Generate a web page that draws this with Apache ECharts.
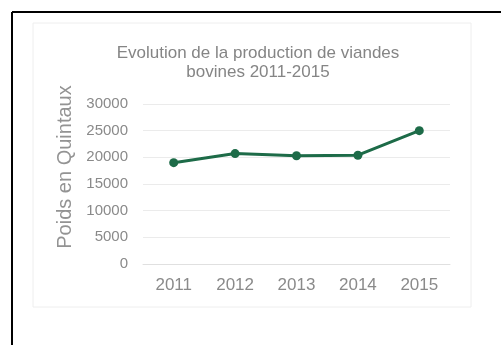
<!DOCTYPE html>
<html>
<head>
<meta charset="utf-8">
<script src="https://cdn.jsdelivr.net/npm/echarts@6/dist/echarts.min.js"></script>
<style>
html,body{margin:0;padding:0;background:#fff;}
#c{width:501px;height:345px;}
</style>
</head>
<body>
<div id="c"></div>
<script>
var categories = ['2011', '2012', '2013', '2014', '2015'];
var values = [19000, 20700, 20300, 20400, 25000];
var yTicks = [0, 5000, 10000, 15000, 20000, 25000, 30000];
var titleText = 'Evolution de la production de viandes\nbovines 2011-2015';
var yName = 'Poids en Quintaux';

var FONT = 'Liberation Sans, Arial, sans-serif';
var chart = echarts.init(document.getElementById('c'), null, {renderer: 'canvas'});
chart.setOption({
  animation: false,
  backgroundColor: '#fff',
  graphic: [
    {type: 'rect', shape: {x: 33, y: 23, width: 438, height: 284}, style: {fill: 'none', stroke: '#eeeeee', lineWidth: 1}, z: -10},
    {type: 'line', shape: {x1: 12, y1: 12, x2: 501, y2: 12}, style: {stroke: '#000', lineWidth: 2}},
    {type: 'line', shape: {x1: 12, y1: 12, x2: 12, y2: 345}, style: {stroke: '#000', lineWidth: 2}}
  ],
  title: {
    text: titleText,
    left: 253,
    textAlign: 'center',
    top: 39,
    textStyle: {fontFamily: FONT, fontSize: 17, fontWeight: 'normal', color: '#858585', lineHeight: 19}
  },
  grid: {left: 143, right: 51, top: 104, bottom: 81},
  xAxis: {
    type: 'category',
    data: categories,
    boundaryGap: true,
    axisLine: {show: true, lineStyle: {color: '#e0e0e0'}},
    axisTick: {show: false},
    axisLabel: {color: '#8a8a8a', fontSize: 17, fontFamily: FONT, margin: 13}
  },
  yAxis: {
    type: 'value',
    min: yTicks[0],
    max: yTicks[yTicks.length - 1],
    interval: 5000,
    name: yName,
    nameLocation: 'middle',
    nameGap: 60,
    nameTextStyle: {color: '#939393', fontSize: 20, fontFamily: FONT, padding: [0, 0, 0, 34]},
    axisLine: {show: false},
    axisTick: {show: false},
    axisLabel: {color: '#8a8a8a', fontSize: 15, fontFamily: FONT, margin: 15, formatter: function (v) { return String(v); }},
    splitLine: {lineStyle: {color: '#ebebeb'}}
  },
  series: [{
    type: 'line',
    data: values,
    symbol: 'circle',
    symbolSize: 9,
    lineStyle: {color: '#1d6b48', width: 3},
    itemStyle: {color: '#1d6b48'}
  }]
});
</script>
</body>
</html>
